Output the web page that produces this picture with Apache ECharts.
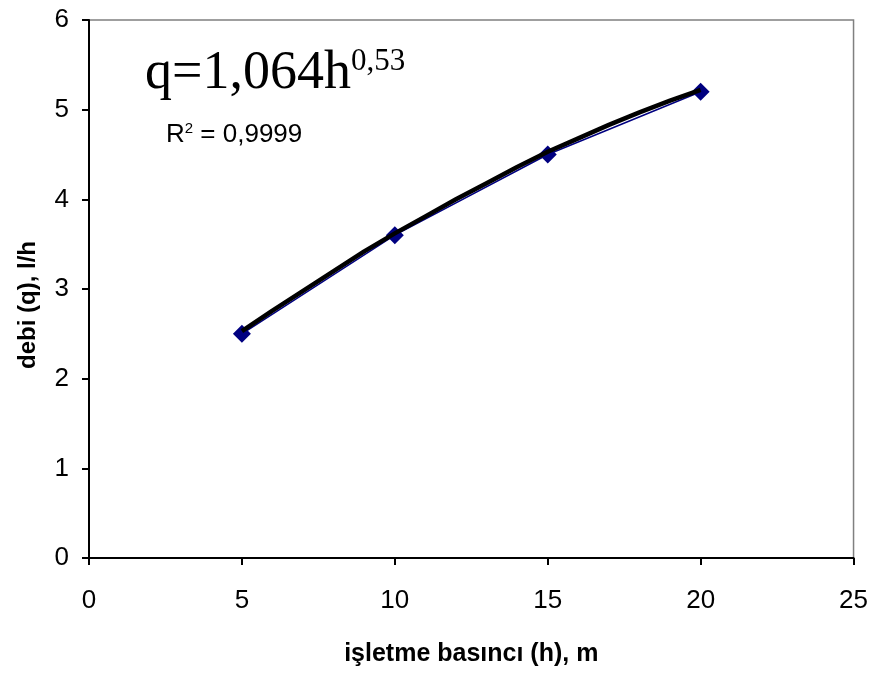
<!DOCTYPE html>
<html>
<head>
<meta charset="utf-8">
<script src="https://cdn.jsdelivr.net/npm/echarts@6/dist/echarts.min.js"></script>
<style>
  html, body { margin: 0; padding: 0; background: #fff; }
  #main { width: 871px; height: 674px; }
</style>
</head>
<body>
<div id="main"></div>
<script>
// measured points: pressure h (m) and flow q (l/h)
const pressure = [5, 10, 15, 20];
const flow = [2.5, 3.6, 4.5, 5.2];

// power trend line at each metre
const trendH = [5, 6, 7, 8, 9, 10, 11, 12, 13, 14, 15, 16, 17, 18, 19, 20];
const trendQ = [2.53, 2.76, 2.98, 3.20, 3.42, 3.62, 3.81, 4.00, 4.18, 4.36, 4.53, 4.68, 4.83, 4.97, 5.10, 5.22];

const xTicks = [0, 25, 5];
const yTicks = [0, 6, 1];

const myChart = echarts.init(document.getElementById("main"));

let option = {
  animation: false,
  backgroundColor: "#fff",
  textStyle: { fontFamily: "Liberation Sans" },
  grid: {
    left: 89,
    right: 16,
    top: 20,
    bottom: 116,
    show: true,
    borderColor: "#808080",
    borderWidth: 1.5,
  },
  xAxis: {
    type: "value",
    min: xTicks[0],
    max: xTicks[1],
    interval: xTicks[2],
    name: "işletme basıncı (h), m",
    nameLocation: "middle",
    nameGap: 84,
    nameTextStyle: { fontSize: 25, fontWeight: "bold", color: "#000" },
    axisLine: { lineStyle: { color: "#000", width: 2 } },
    axisTick: { inside: false, length: 7, lineStyle: { color: "#000", width: 2 } },
    axisLabel: { fontSize: 26, color: "#000", margin: 30 },
    splitLine: { show: false },
  },
  yAxis: {
    type: "value",
    min: yTicks[0],
    max: yTicks[1],
    interval: yTicks[2],
    axisLine: { lineStyle: { color: "#000", width: 2 } },
    axisTick: { inside: false, length: 7, lineStyle: { color: "#000", width: 2 } },
    axisLabel: { fontSize: 26, color: "#000", margin: 20 },
    splitLine: { show: false },
  },
  graphic: [
    {
      type: "text",
      x: 28,
      y: 305,
      rotation: Math.PI / 2,
      style: {
        text: "debi (q), l/h",
        fontFamily: "Liberation Sans",
        fontSize: 24,
        fontWeight: "bold",
        fill: "#000",
        align: "center",
        verticalAlign: "middle",
      },
    },
    {
      type: "text",
      left: 145,
      top: 46,
      style: {
        text: "{b|q=1,064h}{s|0,53}",
        rich: {
          b: { fontFamily: "Liberation Serif", fontSize: 54, fill: "#000", verticalAlign: "bottom" },
          s: { fontFamily: "Liberation Serif", fontSize: 31, fill: "#000", verticalAlign: "top", padding: [0, 0, 24, 0] },
        },
      },
    },
    {
      type: "text",
      left: 166,
      top: 121,
      style: {
        text: "{r|R}{s|2}{r| = 0,9999}",
        rich: {
          r: { fontFamily: "Liberation Sans", fontSize: 26, fill: "#000" },
          s: { fontFamily: "Liberation Sans", fontSize: 15, fill: "#000", padding: [0, 0, 12, 0] },
        },
      },
    },
  ],
  series: [
    {
      type: "line",
      data: pressure.map((h, i) => [h, flow[i]]),
      symbol: "diamond",
      symbolSize: 18,
      itemStyle: { color: "#000080" },
      lineStyle: { color: "#000080", width: 1.5 },
      z: 2,
    },
    {
      type: "line",
      data: trendH.map((h, i) => [h, trendQ[i]]),
      symbol: "none",
      lineStyle: { color: "#000", width: 4.5 },
      z: 3,
    },
  ],
};
option && myChart.setOption(option);
</script>
</body>
</html>
